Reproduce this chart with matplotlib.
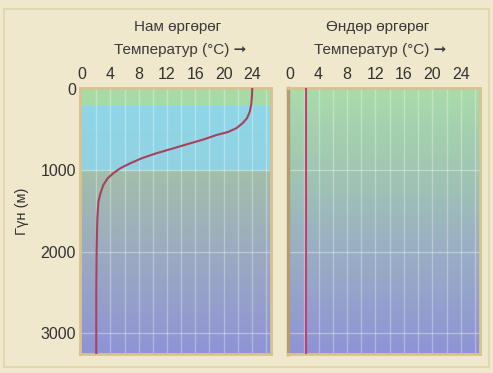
import matplotlib.pyplot as plt
import matplotlib.colors as mcolors
import numpy as np

plt.rcParams['font.family'] = ['Liberation Sans', 'DejaVu Sans']

# temperature profiles (deg C) against depth (m)
low_depth = [0, 100, 197, 280, 360, 420, 483, 530, 566, 620, 668, 730, 791,
             850, 914, 975, 1037, 1100, 1181, 1280, 1385, 1600, 2000, 2500, 3250]
low_temp = [24.05, 24.0, 23.9, 23.7, 23.3, 22.7, 21.8, 20.6, 19.0, 17.2, 15.3,
            12.9, 10.5, 8.5, 6.8, 5.4, 4.4, 3.6, 3.0, 2.6, 2.3, 2.15, 2.05,
            2.0, 2.0]
high_depth = [0, 3250]
high_temp = [2.2, 2.2]

x_ticks = [0, 4, 8, 12, 16, 20, 24]
y_ticks = [0, 1000, 2000, 3000]
titles = ["Нам өргөрөг", "Өндөр өргөрөг"]
subtitle = "Температур (°C) ➞"
ylabel = "Гүн (м)"

XLIM = (-0.3, 26.7)
YLIM = (3260, -12)


def gradient(stops):
    # vertical colour ramp, stops = [(depth, colour), ...]
    depths = np.linspace(YLIM[1], YLIM[0], 400)
    ds = [s[0] for s in stops]
    cols = np.array([mcolors.to_rgb(s[1]) for s in stops])
    img = np.zeros((len(depths), 1, 3))
    for c in range(3):
        img[:, 0, c] = np.interp(depths, ds, cols[:, c])
    return img


left_stops = [(0, '#a7dba6'), (199, '#a7dba6'), (200, '#8ed7e8'),
              (999, '#92d2e2'), (1000, '#a2bfaa'), (2000, '#9cabc0'),
              (3260, '#8e93d6')]
right_stops = [(0, '#a9dcaa'), (1000, '#a0c6b2'), (2000, '#9aaec4'),
               (3260, '#8e93d6')]

fig = plt.figure(figsize=(4.93, 3.73), dpi=100)
fig.patch.set_facecolor('#efe8cc')
fig.add_artist(plt.Rectangle((4 / 493, 6 / 373), 485 / 493, 358 / 373,
                             transform=fig.transFigure, fill=False,
                             edgecolor='#e2d7ae', linewidth=1.5))

ax1 = fig.add_axes([80 / 493, 1 - 354 / 373, 191 / 493, 266 / 373])
ax2 = fig.add_axes([288 / 493, 1 - 354 / 373, 192 / 493, 266 / 373])

panels = [(ax1, left_stops, low_temp, low_depth, '#a8415c'),
          (ax2, right_stops, high_temp, high_depth, '#c4406a')]

for ax, stops, temp, depth, col in panels:
    ax.imshow(gradient(stops), aspect='auto',
              extent=[XLIM[0], XLIM[1], YLIM[0], YLIM[1]], zorder=0)
    ax.set_xlim(XLIM)
    ax.set_ylim(YLIM)
    for x in np.arange(2, 27, 2):
        ax.axvline(x, color='white', alpha=0.3, lw=1, zorder=1)
    for y in [1000, 2000, 3000]:
        ax.axhline(y, color='white', alpha=0.35, lw=1, zorder=1)
    ax.plot(temp, depth, color=col, lw=1.5, zorder=3, solid_joinstyle='round')
    ax.xaxis.tick_top()
    ax.set_xticks(x_ticks)
    ax.tick_params(axis='x', length=0, pad=4, labelsize=11.5, labelcolor='#333333')
    for s in ax.spines.values():
        s.set_color('#d6c38f')
        s.set_linewidth(2)

ax2.spines['left'].set_color('#b39c72')
ax2.spines['left'].set_linewidth(2.5)
ax2.set_yticks([])

ax1.set_yticks(y_ticks)
ax1.tick_params(axis='y', length=0, pad=3, labelsize=11.5, labelcolor='#333333')

fig.text(22 / 493, 1 - 211 / 373, ylabel, rotation=90, ha='center', va='center',
         fontsize=10.5, color='#333333')

for cx, t in [(178, titles[0]), (378, titles[1])]:
    fig.text(cx / 493, 1 - 27 / 373, t, ha='center', va='center',
             fontsize=11, color='#3a3a3a')
    fig.text((cx + 2) / 493, 1 - 50 / 373, subtitle, ha='center', va='center',
             fontsize=11, color='#3a3a3a')

fig.savefig('out.png', dpi=100, facecolor=fig.get_facecolor())
